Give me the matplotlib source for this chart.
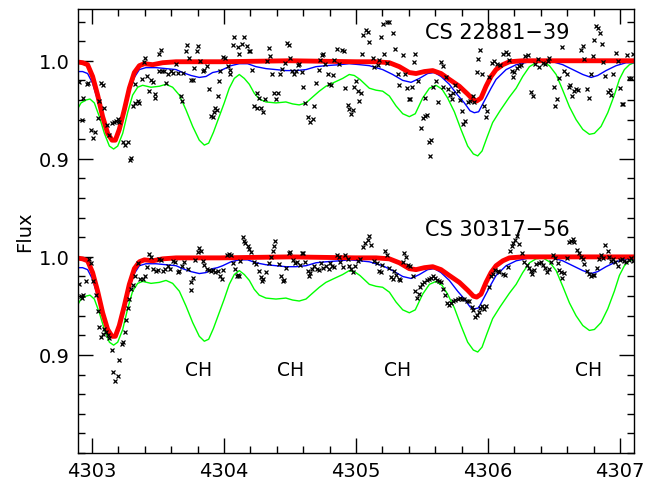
import numpy as np
import matplotlib
matplotlib.use("Agg")
import matplotlib.pyplot as plt
from matplotlib.ticker import MultipleLocator, FixedLocator, FixedFormatter

# synthetic spectra (same for both stars), flux normalised to 1
red_wl = [4302.879, 4302.929, 4302.967, 4303.005, 4303.043, 4303.081, 4303.119, 4303.152,
          4303.177, 4303.207, 4303.245, 4303.283, 4303.321, 4303.359, 4303.397, 4303.460,
          4303.535, 4303.637, 4303.970, 4304.500, 4305.000, 4305.152, 4305.253, 4305.328,
          4305.404, 4305.455, 4305.518, 4305.581, 4305.644, 4305.707, 4305.783, 4305.846,
          4305.889, 4305.914, 4305.947, 4305.985, 4306.023, 4306.061, 4306.112, 4306.162,
          4306.263, 4306.700, 4307.106]
red_fl = [0.999, 0.998, 0.996, 0.984, 0.965, 0.943, 0.926, 0.919,
          0.919, 0.930, 0.950, 0.972, 0.988, 0.995, 0.997, 0.996,
          0.998, 0.999, 0.999, 1.000, 0.999, 0.999, 0.998, 0.994,
          0.988, 0.987, 0.989, 0.990, 0.987, 0.981, 0.974, 0.966,
          0.960, 0.959, 0.962, 0.974, 0.984, 0.991, 0.996, 0.999,
          1.000, 1.000, 1.000]

blue_wl = [4302.879, 4302.929, 4302.967, 4303.005, 4303.043, 4303.081, 4303.119, 4303.152,
           4303.177, 4303.207, 4303.245, 4303.283, 4303.321, 4303.359, 4303.409, 4303.485,
           4303.561, 4303.637, 4303.687, 4303.750, 4303.813, 4303.864, 4303.914, 4303.950,
           4303.990, 4304.053, 4304.116, 4304.179, 4304.242, 4304.318, 4304.394, 4304.469,
           4304.545, 4304.621, 4304.697, 4304.772, 4304.874, 4304.949, 4305.030, 4305.101,
           4305.202, 4305.278, 4305.354, 4305.417, 4305.480, 4305.543, 4305.593, 4305.644,
           4305.707, 4305.770, 4305.821, 4305.864, 4305.896, 4305.929, 4305.972, 4306.023,
           4306.061, 4306.137, 4306.213, 4306.314, 4306.415, 4306.490, 4306.566, 4306.642,
           4306.718, 4306.781, 4306.831, 4306.894, 4306.970, 4307.046, 4307.106]
blue_fl = [0.989, 0.989, 0.987, 0.977, 0.960, 0.940, 0.925, 0.918,
           0.918, 0.926, 0.947, 0.969, 0.983, 0.991, 0.993, 0.993,
           0.992, 0.991, 0.988, 0.985, 0.983, 0.984, 0.988, 0.989,
           0.991, 0.995, 0.997, 0.997, 0.994, 0.992, 0.991, 0.990,
           0.990, 0.991, 0.994, 0.995, 0.996, 0.997, 0.996, 0.995,
           0.991, 0.986, 0.980, 0.978, 0.982, 0.987, 0.988, 0.984,
           0.976, 0.965, 0.957, 0.949, 0.947, 0.948, 0.959, 0.972,
           0.981, 0.991, 0.996, 0.999, 1.000, 0.999, 0.996, 0.991,
           0.986, 0.983, 0.985, 0.990, 0.995, 0.998, 0.998]

green_wl = [4302.879, 4302.917, 4302.955, 4302.985, 4303.018, 4303.056, 4303.094, 4303.132,
            4303.164, 4303.195, 4303.233, 4303.270, 4303.308, 4303.346, 4303.384, 4303.447,
            4303.510, 4303.561, 4303.611, 4303.662, 4303.712, 4303.763, 4303.813, 4303.851,
            4303.884, 4303.920, 4303.950, 4304.002, 4304.040, 4304.078, 4304.116, 4304.154,
            4304.192, 4304.229, 4304.267, 4304.318, 4304.394, 4304.469, 4304.520, 4304.570,
            4304.621, 4304.671, 4304.722, 4304.772, 4304.835, 4304.899, 4304.949, 4304.987,
            4305.030, 4305.101, 4305.152, 4305.202, 4305.253, 4305.303, 4305.354, 4305.404,
            4305.449, 4305.505, 4305.556, 4305.606, 4305.652, 4305.694, 4305.745, 4305.795,
            4305.846, 4305.889, 4305.922, 4305.955, 4305.990, 4306.035, 4306.091, 4306.162,
            4306.213, 4306.263, 4306.314, 4306.364, 4306.415, 4306.465, 4306.516, 4306.566,
            4306.617, 4306.667, 4306.718, 4306.768, 4306.806, 4306.856, 4306.907, 4306.957,
            4306.995, 4307.033, 4307.071, 4307.106]
green_fl = [0.948, 0.957, 0.960, 0.961, 0.957, 0.943, 0.926, 0.913,
            0.910, 0.913, 0.926, 0.947, 0.965, 0.973, 0.975, 0.973,
            0.974, 0.976, 0.973, 0.965, 0.950, 0.933, 0.919, 0.914,
            0.916, 0.927, 0.938, 0.957, 0.972, 0.982, 0.986, 0.982,
            0.976, 0.967, 0.961, 0.958, 0.957, 0.958, 0.956, 0.955,
            0.957, 0.963, 0.969, 0.974, 0.978, 0.982, 0.986, 0.985,
            0.981, 0.972, 0.970, 0.969, 0.964, 0.954, 0.946, 0.943,
            0.946, 0.962, 0.972, 0.975, 0.971, 0.962, 0.948, 0.930,
            0.913, 0.905, 0.903, 0.908, 0.921, 0.937, 0.949, 0.963,
            0.972, 0.984, 0.994, 0.998, 0.999, 0.995, 0.986, 0.970,
            0.953, 0.940, 0.930, 0.925, 0.926, 0.933, 0.947, 0.965,
            0.981, 0.991, 0.996, 0.998]

# observed points, CS 22881-39 (drawn shifted up by 0.2)
obs1_wl = [4302.899, 4302.960, 4302.972, 4302.935, 4302.924, 4302.993, 4303.010, 4303.025,
           4303.043, 4303.051, 4303.071, 4303.081, 4303.094, 4303.111, 4303.132, 4303.152,
           4303.164, 4303.182, 4303.195, 4303.207, 4303.238, 4303.253, 4303.270, 4303.296,
           4303.288, 4303.313, 4303.328, 4303.346, 4303.359, 4303.328, 4303.379, 4303.392,
           4303.402, 4303.414, 4303.435, 4303.447, 4303.460, 4303.475, 4303.480, 4303.505,
           4303.510, 4303.525, 4303.530, 4303.548, 4303.561, 4303.573, 4303.599, 4303.611,
           4303.637, 4303.649, 4303.677, 4303.682, 4303.692, 4303.712, 4303.722, 4303.732,
           4303.750, 4303.763, 4303.775, 4303.793, 4303.806, 4303.818, 4303.839, 4303.851,
           4303.869, 4303.889, 4303.902, 4303.914, 4303.927, 4303.935, 4303.952, 4303.960,
           4303.945, 4303.969, 4303.995, 4304.010, 4304.027, 4304.045, 4304.045, 4304.078,
           4304.070, 4304.103, 4304.116, 4304.136, 4304.154, 4304.171, 4304.187, 4304.197,
           4304.212, 4304.247, 4304.267, 4304.229, 4304.247, 4304.280, 4304.293, 4304.313,
           4304.338, 4304.348, 4304.323, 4304.363, 4304.381, 4304.394, 4304.406, 4304.424,
           4304.439, 4304.459, 4304.474, 4304.490, 4304.500, 4304.515, 4304.532, 4304.545,
           4304.558, 4304.570, 4304.590, 4304.601, 4304.616, 4304.633, 4304.651, 4304.671,
           4304.684, 4304.697, 4304.717, 4304.727, 4304.742, 4304.752, 4304.767, 4304.785,
           4304.798, 4304.810, 4304.823, 4304.836, 4304.853, 4304.873, 4304.894, 4304.911,
           4304.919, 4304.937, 4304.949, 4304.962, 4304.974, 4304.987, 4305.000, 4305.020,
           4305.013, 4305.038, 4305.050, 4305.076, 4305.088, 4305.101, 4305.189, 4305.202,
           4305.232, 4305.247, 4305.283, 4305.045, 4305.126, 4305.139, 4305.164, 4305.177,
           4305.215, 4305.232, 4305.298, 4305.316, 4305.328, 4305.354, 4305.374, 4305.384,
           4305.399, 4305.409, 4305.424, 4305.442, 4305.449, 4305.467, 4305.492, 4305.505,
           4305.525, 4305.535, 4305.525, 4305.551, 4305.568, 4305.561, 4305.586, 4305.606,
           4305.619, 4305.644, 4305.662, 4305.662, 4305.682, 4305.694, 4305.712, 4305.727,
           4305.732, 4305.753, 4305.770, 4305.788, 4305.803, 4305.813, 4305.828, 4305.846,
           4305.864, 4305.884, 4305.896, 4305.914, 4305.922, 4305.939, 4305.955, 4305.972,
           4305.985, 4305.990, 4306.010, 4306.030, 4306.048, 4306.066, 4306.091, 4306.117,
           4306.137, 4306.149, 4306.162, 4306.182, 4306.192, 4306.200, 4306.218, 4306.233,
           4306.250, 4306.283, 4306.301, 4306.326, 4306.344, 4306.359, 4306.377, 4306.389,
           4306.415, 4306.435, 4306.452, 4306.465, 4306.503, 4306.521, 4306.511, 4306.541,
           4306.561, 4306.579, 4306.596, 4306.611, 4306.622, 4306.637, 4306.654, 4306.667,
           4306.680, 4306.705, 4306.718, 4306.730, 4306.748, 4306.763, 4306.781, 4306.793,
           4306.806, 4306.819, 4306.831, 4306.849, 4306.864, 4306.874, 4306.889, 4306.907,
           4306.925, 4306.932, 4306.945, 4306.970, 4306.983, 4307.000, 4307.016, 4307.026,
           4307.051, 4307.066, 4307.084, 4307.096]
obs1_fl = [0.978, 0.976, 0.977, 0.962, 0.940, 0.929, 0.921, 0.927,
           0.942, 0.959, 0.977, 0.975, 0.952, 0.935, 0.924, 0.937,
           0.938, 0.939, 0.941, 0.938, 0.917, 0.914, 0.917, 0.901,
           0.899, 0.954, 0.957, 0.959, 0.957, 0.976, 0.981, 0.999,
           1.003, 0.984, 0.969, 0.980, 0.978, 0.962, 0.966, 0.990,
           1.007, 1.011, 0.990, 0.990, 0.977, 0.986, 0.990, 0.988,
           0.997, 0.988, 0.964, 0.959, 0.988, 1.010, 1.016, 1.003,
           0.980, 0.980, 0.993, 1.010, 1.015, 1.000, 0.990, 0.991,
           0.995, 0.971, 0.944, 0.943, 0.948, 0.952, 0.964, 0.979,
           0.950, 0.990, 1.004, 1.003, 0.995, 0.991, 0.987, 1.024,
           1.016, 1.014, 1.007, 1.017, 1.024, 1.015, 1.010, 1.010,
           0.991, 0.967, 0.962, 0.954, 0.952, 0.952, 0.948, 0.961,
           1.013, 1.005, 1.000, 0.987, 0.967, 0.961, 0.967, 0.986,
           0.992, 0.998, 1.018, 1.016, 1.003, 0.990, 0.986, 0.990,
           0.996, 0.997, 0.989, 0.973, 0.957, 0.943, 0.938, 0.941,
           0.954, 0.977, 0.991, 1.001, 1.006, 1.007, 0.997, 0.987,
           0.976, 0.975, 0.985, 1.001, 1.012, 0.997, 1.011, 1.010,
           0.972, 0.955, 0.951, 0.946, 0.950, 0.973, 0.979, 0.959,
           0.969, 0.967, 1.026, 1.031, 1.029, 1.019, 1.024, 1.038,
           1.040, 1.040, 1.028, 1.007, 1.003, 0.994, 0.996, 1.001,
           1.007, 0.998, 1.012, 0.986, 0.975, 1.006, 0.987, 0.972,
           0.961, 0.961, 0.973, 0.999, 1.007, 0.979, 0.931, 0.942,
           0.944, 0.945, 0.962, 0.917, 0.919, 0.903, 0.973, 0.979,
           0.958, 0.999, 0.995, 0.973, 0.983, 0.971, 0.965, 0.961,
           0.967, 0.975, 0.969, 0.960, 0.949, 0.936, 0.939, 0.958,
           0.959, 0.964, 0.958, 0.989, 1.002, 1.011, 0.987, 0.954,
           0.943, 0.949, 0.983, 0.998, 1.000, 0.997, 0.996, 1.007,
           1.009, 1.007, 1.001, 0.990, 0.983, 0.989, 0.993, 0.995,
           0.996, 1.005, 1.006, 0.968, 0.964, 0.997, 1.002, 0.994,
           0.998, 0.997, 1.000, 1.003, 0.973, 0.961, 0.954, 0.982,
           1.014, 0.990, 0.987, 0.973, 0.975, 0.964, 0.969, 0.971,
           0.970, 1.011, 1.015, 1.002, 0.971, 0.962, 0.987, 1.005,
           1.021, 1.035, 1.033, 1.028, 1.017, 0.999, 0.984, 0.968,
           0.970, 0.965, 0.987, 1.008, 1.000, 0.972, 0.956, 0.956,
           1.006, 0.982, 0.982, 1.007]

# observed points, CS 30317-56
obs2_wl = [4302.899, 4302.955, 4302.975, 4302.993, 4303.005, 4302.917, 4302.935, 4302.924,
           4303.030, 4303.043, 4303.056, 4303.068, 4303.081, 4303.094, 4303.106, 4303.119,
           4303.132, 4303.152, 4303.162, 4303.177, 4303.195, 4303.207, 4303.228, 4303.238,
           4303.253, 4303.258, 4303.270, 4303.283, 4303.296, 4303.308, 4303.328, 4303.346,
           4303.364, 4303.384, 4303.404, 4303.414, 4303.435, 4303.447, 4303.465, 4303.485,
           4303.498, 4303.510, 4303.523, 4303.541, 4303.556, 4303.573, 4303.591, 4303.611,
           4303.632, 4303.649, 4303.662, 4303.682, 4303.700, 4303.725, 4303.750, 4303.750,
           4303.763, 4303.783, 4303.801, 4303.813, 4303.826, 4303.839, 4303.851, 4303.869,
           4303.884, 4303.902, 4303.914, 4303.935, 4303.952, 4303.969, 4303.984, 4303.995,
           4304.020, 4304.035, 4304.053, 4304.070, 4304.085, 4304.096, 4304.111, 4304.121,
           4304.146, 4304.161, 4304.154, 4304.179, 4304.192, 4304.204, 4304.229, 4304.242,
           4304.262, 4304.280, 4304.298, 4304.318, 4304.338, 4304.356, 4304.368, 4304.381,
           4304.389, 4304.419, 4304.431, 4304.457, 4304.469, 4304.490, 4304.500, 4304.525,
           4304.540, 4304.550, 4304.575, 4304.591, 4304.601, 4304.616, 4304.633, 4304.641,
           4304.651, 4304.666, 4304.684, 4304.702, 4304.722, 4304.734, 4304.752, 4304.772,
           4304.793, 4304.803, 4304.818, 4304.835, 4304.853, 4304.868, 4304.878, 4304.899,
           4304.919, 4304.937, 4304.949, 4304.962, 4304.974, 4304.994, 4305.012, 4304.103,
           4304.288, 4304.447, 4305.030, 4305.056, 4305.071, 4305.088, 4305.101, 4305.114,
           4305.139, 4305.157, 4305.177, 4305.189, 4305.197, 4305.222, 4305.232, 4305.253,
           4305.265, 4305.278, 4305.290, 4305.303, 4305.323, 4305.333, 4305.354, 4305.366,
           4305.379, 4305.391, 4305.409, 4305.434, 4305.449, 4305.460, 4305.475, 4305.485,
           4305.500, 4305.518, 4305.535, 4305.551, 4305.568, 4305.586, 4305.601, 4305.611,
           4305.626, 4305.644, 4305.662, 4305.677, 4305.687, 4305.702, 4305.720, 4305.737,
           4305.753, 4305.770, 4305.788, 4305.803, 4305.821, 4305.838, 4305.859, 4305.879,
           4305.889, 4305.904, 4305.914, 4305.929, 4305.939, 4305.955, 4305.972, 4305.985,
           4306.005, 4306.023, 4306.035, 4306.056, 4306.073, 4306.086, 4306.112, 4306.132,
           4306.149, 4306.167, 4306.182, 4306.192, 4306.207, 4306.218, 4306.233, 4306.258,
           4306.276, 4306.293, 4306.314, 4306.326, 4306.334, 4306.351, 4306.364, 4306.384,
           4306.402, 4306.420, 4306.435, 4306.445, 4306.460, 4306.478, 4306.495, 4306.511,
           4306.528, 4306.541, 4306.553, 4306.561, 4306.579, 4306.596, 4306.611, 4306.629,
           4306.642, 4306.654, 4306.672, 4306.687, 4306.705, 4306.723, 4306.730, 4306.748,
           4306.763, 4306.781, 4306.793, 4306.806, 4306.824, 4306.839, 4306.856, 4306.874,
           4306.889, 4306.907, 4306.920, 4306.932, 4306.950, 4306.965, 4306.983, 4307.000,
           4307.016, 4307.033, 4307.046, 4307.066, 4307.084, 4307.096]
obs2_fl = [0.972, 0.975, 0.998, 0.994, 0.975, 0.960, 0.961, 0.958,
           0.961, 0.945, 0.929, 0.918, 0.921, 0.926, 0.923, 0.920,
           0.917, 0.905, 0.883, 0.873, 0.879, 0.895, 0.911, 0.913,
           0.923, 0.936, 0.948, 0.957, 0.967, 0.971, 0.981, 0.994,
           0.977, 0.977, 0.981, 0.990, 1.003, 1.000, 0.988, 0.986,
           0.987, 0.998, 0.997, 0.986, 0.988, 0.991, 0.988, 0.996,
           0.995, 0.985, 0.986, 0.991, 0.995, 0.988, 0.966, 0.974,
           0.978, 0.997, 1.005, 1.009, 1.006, 0.996, 0.992, 0.988,
           0.987, 0.986, 0.987, 0.985, 0.986, 0.981, 0.977, 0.987,
           1.002, 1.003, 1.002, 0.994, 0.988, 0.981, 0.980, 0.996,
           1.020, 1.014, 1.016, 1.011, 1.008, 1.005, 0.995, 0.993,
           0.986, 0.979, 0.977, 0.985, 0.994, 1.000, 1.006, 1.011,
           1.016, 0.993, 0.980, 0.976, 0.989, 1.004, 1.005, 0.997,
           0.994, 0.995, 0.992, 1.004, 1.004, 0.995, 0.986, 0.981,
           0.984, 0.988, 0.991, 0.988, 0.987, 0.994, 0.989, 0.991,
           0.988, 0.994, 0.991, 0.990, 1.002, 1.000, 0.995, 0.990,
           1.002, 0.998, 0.991, 0.988, 0.985, 0.991, 0.996, 0.982,
           0.975, 0.975, 0.998, 1.010, 1.014, 1.017, 1.021, 1.012,
           0.996, 0.994, 0.986, 0.985, 0.992, 1.006, 1.002, 0.989,
           0.979, 0.977, 0.986, 0.982, 0.977, 0.976, 0.995, 1.004,
           1.000, 0.992, 0.991, 0.980, 0.965, 0.958, 0.962, 0.969,
           0.972, 0.974, 0.976, 0.977, 0.978, 0.980, 0.978, 0.976,
           0.975, 0.974, 0.967, 0.961, 0.953, 0.951, 0.953, 0.955,
           0.956, 0.957, 0.958, 0.957, 0.957, 0.955, 0.955, 0.949,
           0.946, 0.939, 0.941, 0.944, 0.948, 0.950, 0.947, 0.950,
           0.969, 0.980, 0.983, 0.987, 0.986, 0.985, 0.983, 0.982,
           0.990, 1.006, 1.011, 1.014, 1.017, 1.021, 1.013, 1.004,
           0.995, 0.992, 0.989, 0.986, 0.983, 0.987, 0.993, 0.994,
           0.995, 0.992, 0.989, 0.985, 0.988, 0.995, 1.002, 0.999,
           0.994, 0.987, 0.985, 0.978, 0.984, 0.999, 1.015, 1.016,
           1.018, 1.015, 1.007, 1.004, 1.000, 0.998, 0.993, 0.986,
           0.983, 0.981, 0.982, 0.982, 0.989, 0.998, 1.002, 0.999,
           1.012, 1.006, 1.000, 0.996, 0.998, 0.995, 0.991, 0.997,
           0.998, 0.996, 0.995, 0.997, 0.999, 0.996]

star_names = ["CS 22881\u221239", "CS 30317\u221256"]
ch_wl = [4303.808, 4304.508, 4305.313, 4306.765]
offset = 0.2

fig = plt.figure(figsize=(6.63, 4.85), dpi=100)
ax = fig.add_axes([0.1176, 0.0639, 0.8387, 0.9155])

for shift in [offset, 0.0]:
    ax.plot(green_wl, np.array(green_fl) + shift, color=(0, 1, 0), lw=1.0)
    ax.plot(blue_wl, np.array(blue_fl) + shift, color=(0, 0, 1), lw=1.0)
    ax.plot(red_wl, np.array(red_fl) + shift, color=(1, 0, 0), lw=3.5, solid_capstyle='butt')

ax.plot(obs1_wl, np.array(obs1_fl) + offset, 'x', color='k', ms=3.5, mew=0.9)
ax.plot(obs2_wl, obs2_fl, 'x', color='k', ms=3.5, mew=0.9)

ax.text(4306.07, 1.229, star_names[0], fontsize=15, ha='center', va='center')
ax.text(4306.07, 1.028, star_names[1], fontsize=15, ha='center', va='center')
for w in ch_wl:
    ax.text(w, 0.8855, "CH", fontsize=13.5, ha='center', va='center')

ax.set_xlim(4302.894, 4307.106)
ax.set_ylim(0.80, 1.2528)

ax.xaxis.set_major_locator(FixedLocator([4303, 4304, 4305, 4306, 4307]))
ax.xaxis.set_major_formatter(FixedFormatter(["4303", "4304", "4305", "4306", "4307"]))
ax.xaxis.set_minor_locator(MultipleLocator(0.2))
ax.yaxis.set_major_locator(FixedLocator([0.9, 1.0, 1.1, 1.2]))
ax.yaxis.set_major_formatter(FixedFormatter(["0.9", "1.0", "0.9", "1.0"]))
ax.yaxis.set_minor_locator(MultipleLocator(0.02))

ax.tick_params(which='both', direction='in', top=True, right=True, width=1.0, labelsize=14)
ax.tick_params(which='major', length=11, pad=6)
ax.tick_params(which='minor', length=5)
for s in ax.spines.values():
    s.set_linewidth(1.0)

fig.text(25 / 663, 1 - 232 / 485, "Flux", fontsize=14, rotation=90, ha='center', va='center')

fig.savefig("out.png", dpi=100)
